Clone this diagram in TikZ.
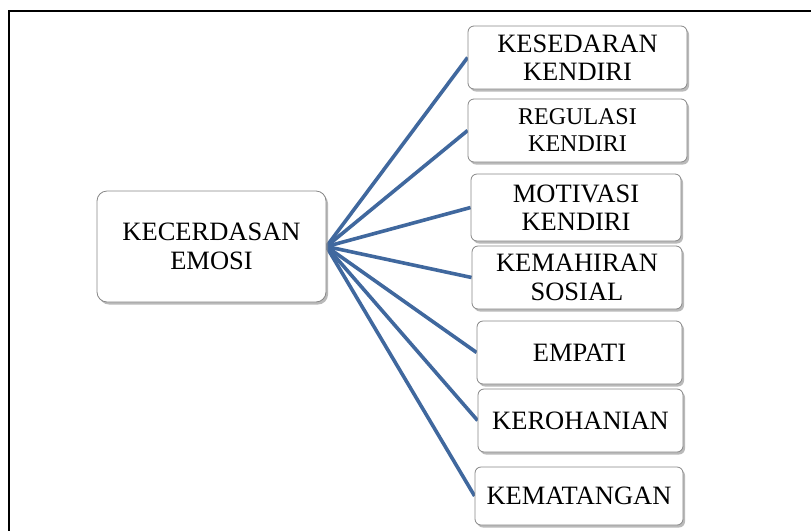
\documentclass[tikz,border=0pt]{standalone}
\usepackage{fontspec}
\setmainfont{Liberation Serif}
\usetikzlibrary{shadows,backgrounds}
\definecolor{linkblue}{RGB}{64,104,158}
\definecolor{boxgray}{RGB}{135,135,135}
\tikzset{
  box/.style={draw=boxgray, line width=0.8pt, fill=white, rounded corners=6pt,
    align=center, inner sep=0pt, font=\fontsize{26.5}{28.5}\selectfont,
    drop shadow={shadow xshift=2pt, shadow yshift=-2.5pt, fill=black!45, opacity=0.6}},
  bigbox/.style={box, rounded corners=10pt},
  link/.style={draw=linkblue, line width=3.6pt},
  frame/.style={draw=black, line width=2pt}
}
\begin{document}
\begin{tikzpicture}[x=1pt,y=-1pt]
\useasboundingbox (0,0) rectangle (811,531);
\coordinate (ftop) at (811,11);
\coordinate (fcorner) at (9,11);
\coordinate (fbot) at (9,531);
\draw[frame] (ftop) -- (fcorner) -- (fbot);

\node[bigbox, minimum width=229pt, minimum height=111pt] (c) at (211.5,246.5) {KECERDASAN\\EMOSI};

\node[box, minimum width=219pt, minimum height=63pt] (b1) at (577.5,57.5) {KESEDARAN\\KENDIRI};
\node[box, minimum width=219pt, minimum height=63pt, font=\fontsize{24}{27}\selectfont] (b2) at (577.5,130.5) {REGULASI\\KENDIRI};
\node[box, minimum width=210pt, minimum height=67pt] (b3) at (576,207.5) {MOTIVASI\\KENDIRI};
\node[box, minimum width=210pt, minimum height=63pt] (b4) at (577,277.5) {KEMAHIRAN\\SOSIAL};
\node[box, minimum width=205pt, minimum height=63pt] (b5) at (579.5,352.5) {EMPATI};
\node[box, minimum width=205pt, minimum height=63pt] (b6) at (580.5,420.5) {KEROHANIAN};
\node[box, minimum width=208pt, minimum height=58pt] (b7) at (579,496) {KEMATANGAN};

\begin{scope}[on background layer]
\foreach \b in {b1,b2,b3,b4,b5,b6,b7}{
  \draw[link] (c.east) -- (\b.west);
}
\end{scope}
\end{tikzpicture}
\end{document}
